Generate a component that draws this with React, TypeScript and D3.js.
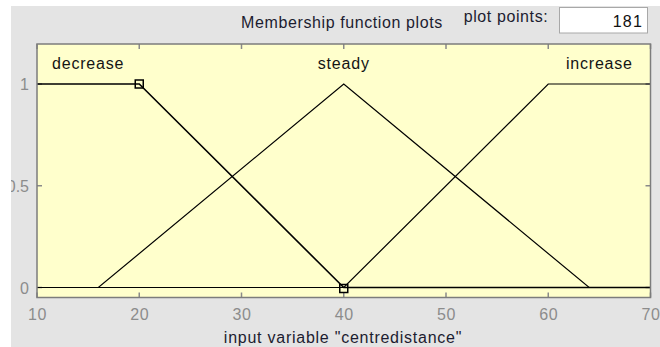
import React from "react";
import * as d3 from "d3";

// Membership functions of the input variable, given as their vertex points.
const mfNames = ["decrease", "steady", "increase"];
const mfVertexX = [
  [10, 20, 40, 70],
  [10, 16, 40, 64, 70],
  [10, 40, 60, 70],
];
const mfVertexY = [
  [1, 1, 0, 0],
  [0, 0, 1, 0, 0],
  [0, 0, 1, 1],
];
// Centre of each function's top plateau, where its name sits.
const mfLabelX = [15, 40, 65];
const selectedMf = 0;
const selectedMarkers = [20, 40];
const selectedMarkerY = [1, 0];

const xTicks = [10, 20, 30, 40, 50, 60, 70];
const yTicks = [0, 0.5, 1];
const yTickLabels = ["0", "0.5", "1"];

const W = 660;
const H = 347;
const FONT = "'Liberation Sans', Arial, sans-serif";

export default function App() {
  const left = 37;
  const right = 650.5;
  const top = 44;
  const bottom = 297.5;

  const x = d3.scaleLinear().domain([10, 70]).range([left, right]);
  const y = d3.scaleLinear().domain([0, 1]).range([287.5, 84]);

  const line = d3
    .line<[number, number]>()
    .x((d) => x(d[0]))
    .y((d) => y(d[1]));

  const tickLen = 5;
  const tickColor = "#8a8a8a";
  const labelColor = "#8c8c8c";
  const darkText = "#1c1c30";

  return (
    <svg
      width={W}
      height={H}
      style={{ position: "absolute", left: 0, top: 0, display: "block" }}
    >
      <rect x={0} y={0} width={W} height={H} fill="#ffffff" />
      <rect x={11} y={6} width={W - 11} height={H - 6} fill="#e4e4e4" />

      {/* header */}
      <text
        x={342}
        y={28}
        textAnchor="middle"
        fontFamily={FONT}
        fontSize={16}
        letterSpacing={0.6}
        fill={darkText}
      >
        Membership function plots
      </text>
      <text
        x={506}
        y={22}
        textAnchor="middle"
        fontFamily={FONT}
        fontSize={16}
        letterSpacing={0.6}
        fill={darkText}
      >
        plot points:
      </text>
      <rect
        x={559.5}
        y={7.5}
        width={88}
        height={25.5}
        fill="#ffffff"
        stroke="#a8a8a8"
        strokeWidth={1}
      />
      <text
        x={643}
        y={27}
        textAnchor="end"
        fontFamily={FONT}
        fontSize={16}
        letterSpacing={1.2}
        fill="#111111"
      >
        181
      </text>

      {/* plot area */}
      <rect
        x={left}
        y={top}
        width={right - left}
        height={bottom - top}
        fill="#ffffcc"
      />

      {/* ticks: inward on all four sides */}
      {xTicks.map((t) => (
        <g key={"xt" + t}>
          <line
            x1={x(t)}
            x2={x(t)}
            y1={bottom}
            y2={bottom - tickLen}
            stroke={tickColor}
            strokeWidth={1.5}
          />
          <line
            x1={x(t)}
            x2={x(t)}
            y1={top}
            y2={top + tickLen}
            stroke={tickColor}
            strokeWidth={1.5}
          />
          <text
            x={x(t) + 0.5}
            y={320}
            textAnchor="middle"
            fontFamily={FONT}
            fontSize={16}
            letterSpacing={0.6}
            fill={labelColor}
          >
            {t}
          </text>
        </g>
      ))}
      {yTicks.map((t, i) => (
        <g key={"yt" + t}>
          <line
            x1={left}
            x2={left + tickLen}
            y1={y(t)}
            y2={y(t)}
            stroke={tickColor}
            strokeWidth={1.5}
          />
          <line
            x1={right}
            x2={right - tickLen}
            y1={y(t)}
            y2={y(t)}
            stroke={tickColor}
            strokeWidth={1.5}
          />
          <text
            x={29}
            y={y(t) + 6}
            textAnchor="end"
            fontFamily={FONT}
            fontSize={16}
            fill={labelColor}
          >
            {yTickLabels[i]}
          </text>
        </g>
      ))}

      {/* membership function curves */}
      {mfNames.map((name, i) => {
        const pts = mfVertexX[i].map(
          (vx, j) => [vx, mfVertexY[i][j]] as [number, number]
        );
        return (
          <path
            key={name}
            d={line(pts) ?? ""}
            fill="none"
            stroke="#000000"
            strokeWidth={i === selectedMf ? 1.6 : 1.2}
          />
        );
      })}

      {/* vertex markers of the selected function */}
      {selectedMarkers.map((vx, j) => (
        <rect
          key={"m" + vx}
          x={x(vx) - 4}
          y={y(selectedMarkerY[j]) - 4 + (selectedMarkerY[j] === 0 ? 1 : 0)}
          width={8}
          height={8}
          fill="none"
          stroke="#000000"
          strokeWidth={1.5}
        />
      ))}

      {/* function names */}
      {mfNames.map((name, i) => (
        <text
          key={"lab" + name}
          x={x(mfLabelX[i])}
          y={69}
          textAnchor="middle"
          fontFamily={FONT}
          fontSize={16}
          letterSpacing={0.8}
          fill="#141414"
        >
          {name}
        </text>
      ))}

      {/* plot border */}
      <rect
        x={left}
        y={top}
        width={right - left}
        height={bottom - top}
        fill="none"
        stroke="#7c7c7c"
        strokeWidth={1.5}
      />

      <text
        x={343}
        y={343}
        textAnchor="middle"
        fontFamily={FONT}
        fontSize={16}
        letterSpacing={0.75}
        fill={darkText}
      >
        input variable "centredistance"
      </text>

      {/* the panel starts a few pixels in from the window edge */}
      <rect x={0} y={0} width={11} height={H} fill="#ffffff" />
    </svg>
  );
}
